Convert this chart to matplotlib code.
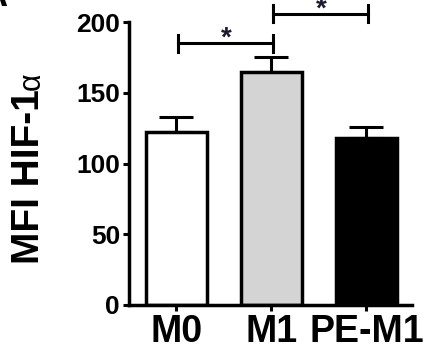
import matplotlib
matplotlib.use("Agg")
import matplotlib.pyplot as plt

# data
groups = ["M0", "M1", "PE-M1"]
means = [122, 165, 118]
sem = [11, 10, 8]
bar_colors = ["white", "#d4d4d4", "black"]

# significance brackets: (left group, right group, height)
brackets = [(0, 1, 185), (1, 2, 206)]

plt.rcParams['font.family'] = ['Liberation Sans', 'DejaVu Sans']

fig = plt.figure(figsize=(4.38, 3.52), dpi=100)
ax = fig.add_axes([129/438, 1 - 305/352, 283/438, 283/352])

x = range(len(groups))
ax.bar(x, means, width=0.65, color=bar_colors, edgecolor="black", linewidth=2.5, zorder=2)
ax.errorbar(x, means, yerr=[[0]*len(sem), sem], fmt="none", ecolor="black",
            elinewidth=2.2, capsize=12, capthick=2.2, zorder=1)

ax.set_xlim(-0.5, 2.48)
ax.set_ylim(0, 200)
ax.set_yticks([0, 50, 100, 150, 200])
ax.set_xticks(list(x))
ax.set_xticklabels(groups, fontsize=27, fontweight="bold")
for lab in ax.get_yticklabels():
    lab.set_fontsize(19)
    lab.set_fontweight("bold")

ax.spines["top"].set_visible(False)
ax.spines["right"].set_visible(False)
ax.spines["left"].set_linewidth(2.5)
ax.spines["bottom"].set_linewidth(2.5)
ax.tick_params(axis="y", direction="out", length=4.5, width=2.2, pad=2)
ax.tick_params(axis="x", direction="out", length=4.5, width=2.2, pad=2)

# brackets with stars
for a, b, h in brackets:
    ax.plot([a + 0.02, b + 0.02], [h, h], color="black", lw=2.2, clip_on=False)
    for xe in (a + 0.02, b + 0.02):
        ax.plot([xe, xe], [h - 6, h + 6], color="black", lw=2.2, clip_on=False)
    ax.text((a + b) / 2 + 0.02, h + 3, "*", ha="center", va="center",
            fontsize=20, fontweight="bold", color="#1a1a2e", clip_on=False)

# y label with a lighter alpha
main = fig.text(29/438, 1 - 177/352, "MFI HIF-1", rotation=90, ha="center", va="center",
                fontsize=28, fontweight="bold")
ax.annotate("α", xy=(1, 1), xycoords=main, rotation=90, ha="right", va="bottom",
            fontsize=22, annotation_clip=False)

# cropped panel letter
fig.text(7/438, 1 - 6/352, "A", ha="right", va="baseline", fontsize=26, fontweight="bold")

fig.savefig("out.png", dpi=100)
